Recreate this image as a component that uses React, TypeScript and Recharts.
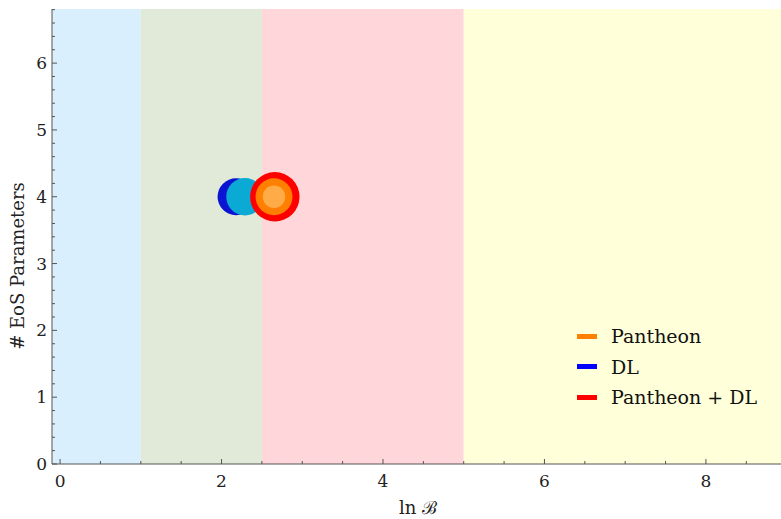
import React from 'react';
import { ScatterChart, Scatter, XAxis, YAxis, ReferenceArea } from 'recharts';

// Evidence bands on ln B
const bandStarts = [-0.1, 1, 2.5, 5];
const bandEnds = [1, 2.5, 5, 8.93];

// Bubbles (ln B, number of EoS parameters)
const dlOuter = [{ lnB: 2.18, nParams: 4 }];
const dlInner = [{ lnB: 2.29, nParams: 4 }];
const combinedOuter = [{ lnB: 2.66, nParams: 4 }];
const pantheonMid = [{ lnB: 2.65, nParams: 4 }];
const pantheonInner = [{ lnB: 2.65, nParams: 4 }];

const xTicks = [0, 0.5, 1, 1.5, 2, 2.5, 3, 3.5, 4, 4.5, 5, 5.5, 6, 6.5, 7, 7.5, 8, 8.5];
const xLabels = [0, 2, 4, 6, 8];
const yTicks = [0, 0.2, 0.4, 0.6, 0.8, 1, 1.2, 1.4, 1.6, 1.8, 2, 2.2, 2.4, 2.6, 2.8, 3, 3.2, 3.4, 3.6, 3.8, 4, 4.2, 4.4, 4.6, 4.8, 5, 5.2, 5.4, 5.6, 5.8, 6, 6.2, 6.4, 6.6, 6.8];
const yLabels = [0, 1, 2, 3, 4, 5, 6];

const legendItems = ['Pantheon', 'DL', 'Pantheon + DL'];

const bandColors = ['#d9effd', '#e1e9d8', '#ffd7da', '#ffffd9'];
const legendColors = ['#ff8000', '#0000ff', '#ff0000'];
const FONT = '"DejaVu Serif", serif';
const AXIS = '#555555';

const near = (v: number, arr: number[]) => arr.some((a) => Math.abs(a - v) < 1e-6);

const BottomTick = (props: any) => {
  const { x, y, payload } = props;
  const major = near(payload.value, xLabels);
  return (
    <g>
      <line x1={x} x2={x} y1={y} y2={y - (major ? 5 : 3)} stroke={AXIS} />
      {major && (
        <text x={x} y={y + 23} textAnchor="middle" fontFamily={FONT} fontSize={17} fill="#222">
          {payload.value}
        </text>
      )}
    </g>
  );
};

const TopTick = (props: any) => {
  const { x, y, payload } = props;
  const major = near(payload.value, xLabels);
  return <line x1={x} x2={x} y1={y} y2={y + (major ? 5 : 3)} stroke={AXIS} />;
};

const LeftTick = (props: any) => {
  const { x, y, payload } = props;
  const major = near(payload.value, yLabels);
  return (
    <g>
      <line x1={x} x2={x + (major ? 5 : 3)} y1={y} y2={y} stroke={AXIS} />
      {major && (
        <text x={x - 5} y={y + 6} textAnchor="end" fontFamily={FONT} fontSize={17} fill="#222">
          {payload.value}
        </text>
      )}
    </g>
  );
};

const bubble = (r: number, color: string) => (props: any) => {
  const { cx, cy } = props;
  return <circle cx={cx} cy={cy} r={r} fill={color} />;
};

export default function App() {
  return (
    <div style={{ position: 'absolute', left: 0, top: 0, width: 781, height: 519 }}>
      <ScatterChart width={781} height={519} margin={{ top: 9, right: 0, bottom: 0, left: 0 }}>
        {bandStarts.map((s, i) => (
          <ReferenceArea key={i} x1={s} x2={bandEnds[i]} y1={0} y2={6.81} fill={bandColors[i]} fillOpacity={1} stroke="none" ifOverflow="hidden" />
        ))}
        <XAxis
          type="number"
          dataKey="lnB"
          domain={[-0.1, 8.93]}
          ticks={xTicks}
          allowDataOverflow
          height={55}
          tickSize={0}
          tickMargin={0}
          tickLine={false}
          interval={0}
          axisLine={{ stroke: AXIS }}
          tick={<BottomTick />}
          label={{
            content: () => (
              <text x={418} y={514} textAnchor="middle" fontFamily={FONT} fontSize={18} fill="#222">
                ln ℬ
              </text>
            ),
          }}
        />
        <XAxis
          xAxisId="top"
          orientation="top"
          type="number"
          domain={[-0.1, 8.93]}
          ticks={xTicks}
          allowDataOverflow
          height={0}
          tickSize={0}
          tickMargin={0}
          tickLine={false}
          interval={0}
          axisLine={{ stroke: AXIS }}
          tick={<TopTick />}
        />
        <YAxis
          type="number"
          dataKey="nParams"
          domain={[0, 6.81]}
          ticks={yTicks}
          allowDataOverflow
          width={52}
          tickSize={0}
          tickMargin={0}
          tickLine={false}
          interval={0}
          axisLine={{ stroke: AXIS }}
          tick={<LeftTick />}
          label={{
            content: () => (
              <text
                x={24}
                y={266}
                textAnchor="middle"
                fontFamily={FONT}
                fontSize={18}
                fill="#222"
                transform="rotate(-90 24 266)"
              >
                # EoS Parameters
              </text>
            ),
          }}
        />
        <Scatter data={dlOuter} fill="#0a14d2" shape={bubble(18.5, '#0a14d2')} isAnimationActive={false} />
        <Scatter data={dlInner} fill="#0aaad5" shape={bubble(18.7, '#0aaad5')} isAnimationActive={false} />
        <Scatter data={combinedOuter} fill="#ff0000" shape={bubble(24.7, '#ff0000')} isAnimationActive={false} />
        <Scatter data={pantheonMid} fill="#ff7f00" shape={bubble(18.5, '#ff7f00')} isAnimationActive={false} />
        <Scatter data={pantheonInner} fill="#ffab48" shape={bubble(11.2, '#ffab48')} isAnimationActive={false} />
      </ScatterChart>
      <div style={{ position: 'absolute', left: 577, top: 321, fontFamily: FONT, fontSize: 19, color: '#111' }}>
        {legendItems.map((name, i) => (
          <div key={name} style={{ display: 'flex', alignItems: 'center', height: 30.5, whiteSpace: 'nowrap' }}>
            <div style={{ width: 20, height: 5, background: legendColors[i], marginRight: 14 }} />
            <span>{name}</span>
          </div>
        ))}
      </div>
    </div>
  );
}
